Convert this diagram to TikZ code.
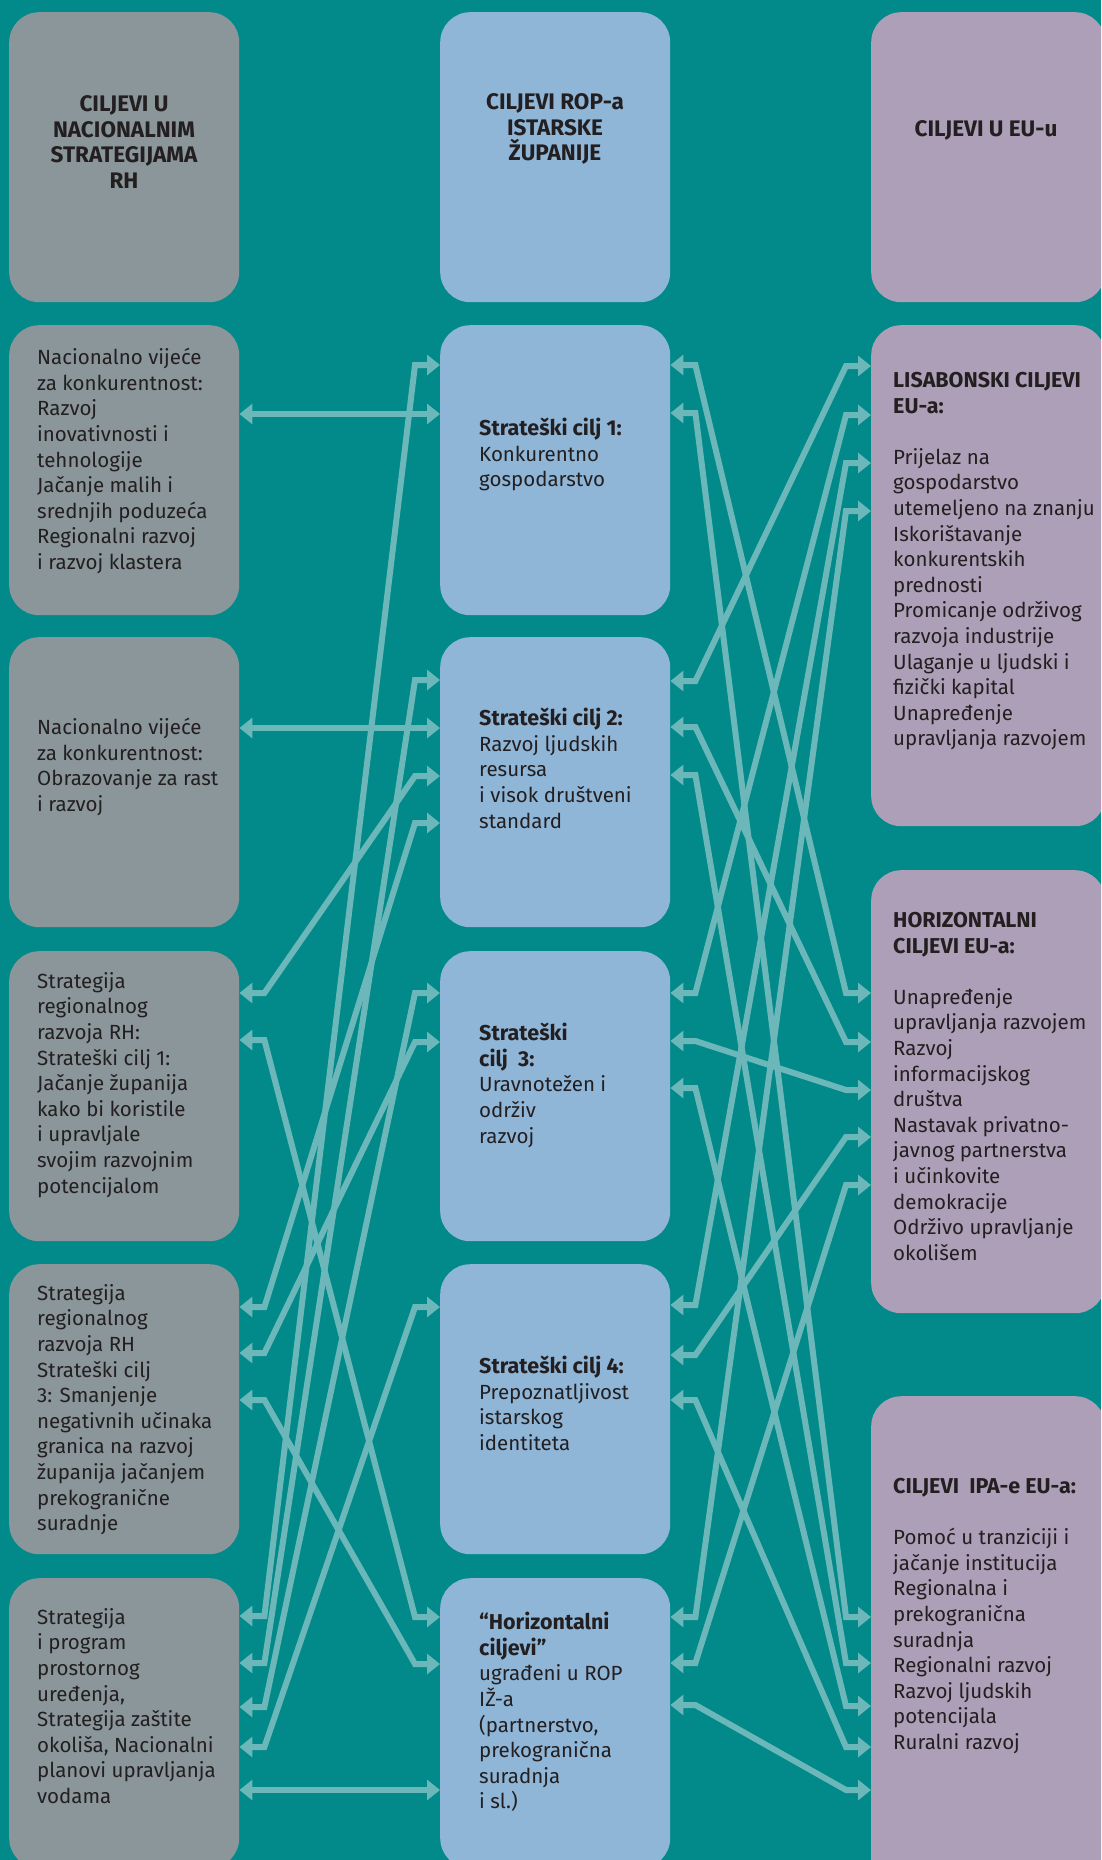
\documentclass[tikz,border=0pt]{standalone}
\usepackage{fontspec}
\setmainfont{Fira Sans}
\usepackage{tikz}
\usetikzlibrary{calc,arrows.meta}

\definecolor{seacol}{RGB}{2,137,137}
\definecolor{grayboxcol}{RGB}{138,150,154}
\definecolor{blueboxcol}{RGB}{143,181,215}
\definecolor{mauveboxcol}{RGB}{174,159,184}
\definecolor{linkcol}{RGB}{107,183,185}
\definecolor{inkcol}{RGB}{35,31,32}

% bold lead line inside a panel
\newcommand\boldline[1]{{\fontsize{21.5}{25.6}\selectfont\bfseries #1}}

\begin{document}
\begin{tikzpicture}[x=1pt,y=-1pt]
    % `panel' is the rounded box of each column.
    % `head' is used for the titles on the first row.
    % `txt' is the text set inside a panel, `link' the arrows.
    \tikzstyle{panel} = [rounded corners=30pt,minimum width=230pt,minimum height=290pt,anchor=north west,inner sep=0pt]
    \tikzstyle{head} = [align=center,inner sep=0pt,text=inkcol,font=\fontsize{22.5}{25.6}\selectfont\bfseries]
    \tikzstyle{txt} = [anchor=north west,align=left,inner sep=0pt,text=inkcol,font=\fontsize{20.5}{25.6}\selectfont]
    \tikzstyle{link} = [draw=linkcol,line width=6pt,{Triangle[length=13pt,width=20pt]}-{Triangle[length=13pt,width=20pt]}]
    %
    \fill[seacol] (0,0) rectangle (1101,1860);
    \clip (0,0) rectangle (1101,1860);
    %
    % first row: titles
    \node[panel,fill=grayboxcol] (l0) at (9,12) {};
    \node[panel,fill=blueboxcol] (m0) at (440,12) {};
    \node[panel,fill=mauveboxcol,minimum width=234pt] (r0) at (871,12) {};
    \node[head] (hl) at (124,142) {CILJEVI U\\NACIONALNIM\\STRATEGIJAMA\\RH};
    \node[head] (hm) at (555,129) {CILJEVI ROP-a\\ISTARSKE\\ŽUPANIJE};
    \node[head] (hr) at (986,130) {CILJEVI U EU-u};
    %
    % national goals
    \node[panel,fill=grayboxcol] (l1) at (9,325) {};
    \node[panel,fill=grayboxcol] (l2) at (9,637) {};
    \node[panel,fill=grayboxcol] (l3) at (9,951) {};
    \node[panel,fill=grayboxcol] (l4) at (9,1264) {};
    \node[panel,fill=grayboxcol] (l5) at (9,1578) {};
    %
    % ROP goals
    \node[panel,fill=blueboxcol] (m1) at (440,325) {};
    \node[panel,fill=blueboxcol] (m2) at (440,637) {};
    \node[panel,fill=blueboxcol] (m3) at (440,951) {};
    \node[panel,fill=blueboxcol] (m4) at (440,1264) {};
    \node[panel,fill=blueboxcol] (m5) at (440,1578) {};
    %
    % EU goals
    \node[panel,fill=mauveboxcol,minimum width=234pt,minimum height=501pt] (ra) at (871,325) {};
    \node[panel,fill=mauveboxcol,minimum width=234pt,minimum height=443pt] (rb) at (871,870) {};
    \node[panel,fill=mauveboxcol,minimum width=234pt,minimum height=500pt] (rc) at (871,1396) {};
    %
    \node[txt] (tl1) at (37,348) {Nacionalno vijeće\\za konkurentnost:\\Razvoj\\inovativnosti i\\tehnologije\\Jačanje malih i\\srednjih poduzeća\\Regionalni razvoj\\i razvoj klastera};
    \node[txt] (tl2) at (37,718) {Nacionalno vijeće\\za konkurentnost:\\Obrazovanje za rast\\i razvoj};
    \node[txt] (tl3) at (37,972) {Strategija\\regionalnog\\razvoja RH:\\Strateški cilj 1:\\Jačanje županija\\kako bi koristile\\i upravljale\\svojim razvojnim\\potencijalom};
    \node[txt] (tl4) at (37,1284) {Strategija\\regionalnog\\razvoja RH\\Strateški cilj\\3: Smanjenje\\negativnih učinaka\\granica na razvoj\\županija jačanjem\\prekogranične\\suradnje};
    \node[txt] (tl5) at (37,1608) {Strategija\\i program\\prostornog\\uređenja,\\Strategija zaštite\\okoliša, Nacionalni\\planovi upravljanja\\vodama};
    %
    \node[txt] (tm1) at (479,418) {\boldline{Strateški cilj 1:}\\Konkurentno\\gospodarstvo};
    \node[txt] (tm2) at (479,708) {\boldline{Strateški cilj 2:}\\Razvoj ljudskih\\resursa\\i visok društveni\\standard};
    \node[txt] (tm3) at (479,1023) {\boldline{Strateški}\\\boldline{cilj~ 3:}\\Uravnotežen i\\održiv\\razvoj};
    \node[txt] (tm4) at (479,1356) {\boldline{Strateški cilj 4:}\\Prepoznatljivost\\istarskog\\identiteta};
    \node[txt] (tm5) at (479,1612) {\boldline{“Horizontalni}\\\boldline{ciljevi”}\\ugrađeni u ROP\\IŽ-a\\(partnerstvo,\\prekogranična\\suradnja\\i sl.)};
    %
    \node[txt] (tra) at (893,372) {\boldline{LISABONSKI CILJEVI}\\\boldline{EU-a:}\\[25.6pt]Prijelaz na\\gospodarstvo\\utemeljeno na znanju\\Iskorištavanje\\konkurentskih\\prednosti\\Promicanje održivog\\razvoja industrije\\Ulaganje u ljudski i\\fizički kapital\\Unapređenje\\upravljanja razvojem};
    \node[txt] (trb) at (893,912) {\boldline{HORIZONTALNI}\\\boldline{CILJEVI EU-a:}\\[25.6pt]Unapređenje\\upravljanja razvojem\\Razvoj\\informacijskog\\društva\\Nastavak privatno-\\javnog partnerstva\\i učinkovite\\demokracije\\Održivo upravljanje\\okolišem};
    \node[txt] (trc) at (893,1478) {\boldline{CILJEVI~ IPA-e EU-a:}\\[25.6pt]Pomoć u tranziciji i\\jačanje institucija\\Regionalna i\\prekogranična\\suradnja\\Regionalni razvoj\\Razvoj ljudskih\\potencijala\\Ruralni razvoj};
    %
    % Draw the arrows: from panel, at height, to panel, at height.
    \foreach \a/\ya/\b/\yb in {l1/414/m1/414, l2/728/m2/728, l3/993/m2/776, l3/1040/m5/1617,
        l4/1307/m2/823, l4/1353/m3/1042, l4/1400/m5/1664, l5/1616/m1/365, l5/1663/m2/680,
        l5/1707/m3/993, l5/1747/m4/1307, l5/1790/m5/1790,
        m1/365/rb/993, m1/413/rc/1617, m2/681/ra/366, m2/727/rb/1042, m2/775/rc/1663,
        m3/993/ra/415, m3/1041/rb/1090, m3/1088/rc/1706, m4/1305/ra/463, m4/1355/rb/1137,
        m4/1400/rc/1747, m5/1617/ra/511, m5/1663/rb/1185, m5/1705/rc/1790}
      \draw[link] (\a.east |- 0,\ya) -- ++(25,0) -- ($(\b.west |- 0,\yb)+(-25,0)$) -- (\b.west |- 0,\yb);
\end{tikzpicture}
\end{document}
